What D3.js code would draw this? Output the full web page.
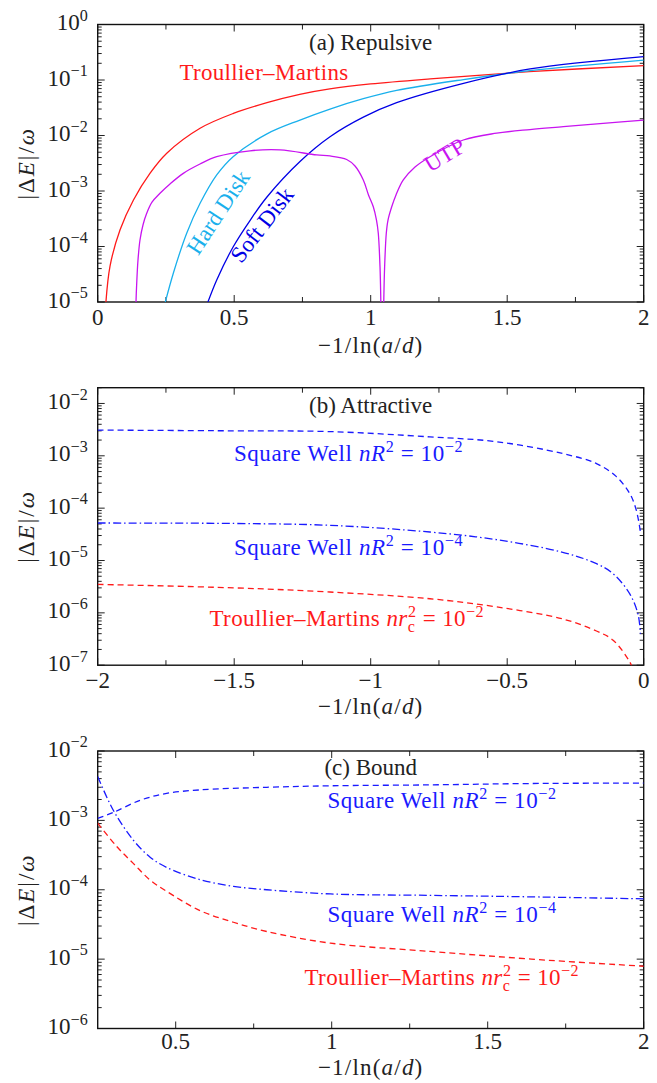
<!DOCTYPE html>
<html>
<head>
<meta charset="utf-8">
<script src="https://cdn.jsdelivr.net/npm/d3@7"></script>
<style>
body { margin: 0; background: #fff; }
text { font-family: "Liberation Serif", "DejaVu Serif", serif; fill: #222; }
</style>
</head>
<body>
<div id="chart"></div>
<script>
// ---- (a) Repulsive ----
var repTmX   = [0.028, 0.045, 0.082, 0.131, 0.192, 0.253, 0.375, 0.497, 0.62, 0.74, 0.85, 1.0, 1.218, 1.58, 2.0];
var repTmY   = [7.1e-6, 4.4e-5, 2.0e-4, 6.9e-4, 2.1e-3, 4.8e-3, 1.35e-2, 2.5e-2, 3.9e-2, 5.5e-2, 6.9e-2, 8.5e-2, 0.105, 0.141, 0.182];
var hardX    = [0.245, 0.277, 0.326, 0.375, 0.436, 0.497, 0.62, 0.741, 0.851, 0.973, 1.095, 1.34, 1.584, 2.0];
var hardY    = [8.9e-6, 3.3e-5, 1.74e-4, 6.0e-4, 1.95e-3, 4.2e-3, 1.07e-2, 1.9e-2, 3.0e-2, 4.6e-2, 6.5e-2, 0.102, 0.148, 0.229];
var softX    = [0.40, 0.436, 0.497, 0.559, 0.62, 0.741, 0.851, 0.973, 1.095, 1.34, 1.584, 2.0];
var softY    = [8.9e-6, 2.5e-5, 1.0e-4, 3.0e-4, 7.8e-4, 3.4e-3, 9.5e-3, 2.14e-2, 3.9e-2, 8.7e-2, 0.158, 0.263];
var utpX     = [0.139, 0.1403, 0.1429, 0.1476, 0.1549, 0.1659, 0.1795, 0.1989, 0.2282, 0.2648, 0.3136, 0.3747, 0.4359, 0.5579, 0.6678, 0.8022, 0.8509, 0.9121, 0.9425, 0.9729, 0.9919, 1.0095, 1.0212, 1.0278, 1.0341, 1.037,
                1.0425,
                1.048, 1.051, 1.0571, 1.0634, 1.077, 1.0927, 1.1194, 1.1623, 1.2172, 1.3392, 1.4615, 1.5835, 1.7055, 1.84, 2.0];
var utpY     = [4e-6, 9.9e-6, 2.17e-5, 5.7e-5, 1.31e-4, 2.44e-4, 3.96e-4, 6.3e-4, 9.1e-4, 1.34e-3, 2.08e-3, 3.06e-3, 4.15e-3, 5.3e-3, 5.5e-3, 4.46e-3, 4.28e-3, 3.7e-3, 2.82e-3, 1.58e-3, 8.5e-4, 5.2e-4, 3.0e-4, 1.73e-4, 4.3e-5, 1.09e-5,
                1e-7,
                1.09e-5, 4.3e-5, 1.73e-4, 3.0e-4, 5.2e-4, 8.5e-4, 1.58e-3, 2.7e-3, 4.15e-3, 8.3e-3, 1.1e-2, 1.28e-2, 1.44e-2, 1.64e-2, 1.9e-2];

// ---- (b) Attractive ----
var attSw2X  = [-2, -1.5, -1.15, -0.783, -0.539, -0.295, -0.173, -0.1, -0.051, -0.027, -0.012];
var attSw2Y  = [3.1e-3, 3.0e-3, 2.9e-3, 2.3e-3, 1.86e-3, 1.1e-3, 7.1e-4, 4.0e-4, 1.9e-4, 9.1e-5, 3.5e-5];
var attSw4X  = [-2, -1.5, -1.15, -0.783, -0.539, -0.3, -0.173, -0.112, -0.051, -0.021, -0.012];
var attSw4Y  = [5.2e-5, 5.1e-5, 4.7e-5, 3.5e-5, 2.5e-5, 1.45e-5, 8.7e-6, 5.6e-6, 2.3e-6, 9.5e-7, 4.0e-7];
var attTmX   = [-2, -1.5, -1.15, -0.783, -0.539, -0.295, -0.173, -0.112, -0.051, -0.035];
var attTmY   = [3.5e-6, 3.0e-6, 2.5e-6, 1.86e-6, 1.3e-6, 7.6e-7, 4.5e-7, 3.0e-7, 1.15e-7, 7.1e-8];

// ---- (c) Bound ----
var bndSw2X  = [0.25, 0.30, 0.386, 0.471, 0.578, 0.792, 0.996, 1.318, 1.64, 2.0];
var bndSw2Y  = [1.07e-3, 1.3e-3, 1.95e-3, 2.45e-3, 2.75e-3, 3.0e-3, 3.15e-3, 3.25e-3, 3.4e-3, 3.45e-3];
var bndSw4X  = [0.25, 0.30, 0.364, 0.418, 0.471, 0.578, 0.685, 0.792, 0.996, 1.318, 1.64, 2.0];
var bndSw4Y  = [4.3e-3, 1.4e-3, 5.2e-4, 2.95e-4, 2.1e-4, 1.4e-4, 1.12e-4, 1.0e-4, 8.7e-5, 8.3e-5, 7.9e-5, 7.4e-5];
var bndTmX   = [0.25, 0.311, 0.364, 0.418, 0.471, 0.578, 0.685, 0.792, 0.996, 1.318, 1.64, 2.0];
var bndTmY   = [9.1e-4, 4.2e-4, 2.4e-4, 1.38e-4, 9.5e-5, 5.0e-5, 3.4e-5, 2.5e-5, 1.7e-5, 1.29e-5, 1.0e-5, 7.9e-6];

// tick values
var xTicksRep = [0, 0.5, 1, 1.5, 2];
var xTicksAtt = [-2, -1.5, -1, -0.5, 0];
var xTicksBnd = [0.5, 1, 1.5, 2];
var yExpRep = [0, -1, -2, -3, -4, -5];
var yExpAtt = [-2, -3, -4, -5, -6, -7];
var yExpBnd = [-2, -3, -4, -5, -6];

var RED = "#ff1a1a", SKY = "#1ab0ec", NAVY = "#0000e6", VIOLET = "#c814f0", BLUE = "#1a1aff";
var FS = 23;

var svgWidth = 657, svgHeight = 1083;
var left = 97.7, right = 643.7, plotH = 277.5;

var svg = d3.select("#chart").append("svg")
    .attr("width", svgWidth)
    .attr("height", svgHeight);

// text made of pieces: plain, italic, superscript, subscript
function richText(g, parts, size) {
    var t = g.append("text").attr("font-size", size);
    var shift = 0;
    parts.forEach(function(p) {
        var sp = t.append("tspan").text(p.t);
        var target = p.sup ? -0.4 * size : (p.sub ? 0.25 * size : 0);
        sp.attr("dy", target - shift);
        shift = target;
        if (p.sup || p.sub) sp.attr("font-size", size * 0.7);
        if (p.i) sp.attr("font-style", "italic");
        if (p.dx) sp.attr("dx", p.dx);
    });
    return t;
}

function fmtX(v) {
    return v < 0 ? "\u2212" + Math.abs(v) : String(v);
}

function drawPanel(id, top, xDomain, yDomain, xTicks, xMinor, yExps, tickBase, titleBase) {
    var x = d3.scaleLinear().domain(xDomain).range([left, right]);
    var y = d3.scaleLog().domain(yDomain).range([top + plotH, top]);
    var g = svg.append("g");

    g.append("clipPath").attr("id", "clip" + id)
        .append("rect")
        .attr("x", left).attr("y", top)
        .attr("width", right - left).attr("height", plotH);

    var ax = g.append("g").attr("stroke", "#222").attr("stroke-width", 1);
    // x ticks, bottom and top
    xTicks.concat(xMinor).forEach(function(v) {
        var len = xTicks.indexOf(v) >= 0 ? 7 : 5;
        ax.append("line").attr("x1", x(v)).attr("x2", x(v)).attr("y1", top + plotH).attr("y2", top + plotH - len);
        ax.append("line").attr("x1", x(v)).attr("x2", x(v)).attr("y1", top).attr("y2", top + len);
    });
    // log y ticks, left and right
    var lo = Math.floor(Math.log10(yDomain[0])), hi = Math.ceil(Math.log10(yDomain[1]));
    for (var k = lo; k <= hi; k++) {
        for (var m = 1; m <= 9; m++) {
            var v = m * Math.pow(10, k);
            if (v < yDomain[0] * 0.999 || v > yDomain[1] * 1.001) continue;
            var len = m === 1 ? 7 : 4;
            ax.append("line").attr("x1", left).attr("x2", left + len).attr("y1", y(v)).attr("y2", y(v));
            ax.append("line").attr("x1", right).attr("x2", right - len).attr("y1", y(v)).attr("y2", y(v));
        }
    }
    g.append("rect")
        .attr("x", left).attr("y", top)
        .attr("width", right - left).attr("height", plotH)
        .attr("fill", "none").attr("stroke", "#111").attr("stroke-width", 1.4);

    // tick labels
    xTicks.forEach(function(v) {
        g.append("text").attr("x", x(v)).attr("y", top + plotH + tickBase)
            .attr("text-anchor", "middle").attr("font-size", FS).text(fmtX(v));
    });
    yExps.forEach(function(e) {
        richText(g, [{t: "10"}, {t: (e < 0 ? "\u2212" + (-e) : String(e)), sup: true}], FS)
            .attr("x", left - 10).attr("y", y(Math.pow(10, e)) + 5.5)
            .attr("text-anchor", "end");
    });

    // axis titles
    richText(g, [{t: "\u22121/ln("}, {t: "a", i: true}, {t: "/"}, {t: "d", i: true}, {t: ")"}], FS)
        .attr("x", (left + right) / 2).attr("y", top + plotH + titleBase)
        .attr("text-anchor", "middle")
        .attr("letter-spacing", 1.2);
    richText(g, [{t: "|\u0394"}, {t: "E", i: true}, {t: "|/"}, {t: "\u03c9", i: true}], FS)
        .attr("text-anchor", "middle")
        .attr("letter-spacing", 2)
        .attr("transform", "translate(34," + (top + plotH / 2) + ") rotate(-90)");

    var plot = g.append("g").attr("clip-path", "url(#clip" + id + ")");
    return {x: x, y: y, g: g, plot: plot};
}

function drawCurve(p, xs, ys, color, dash) {
    var pts = xs.map(function(v, i) { return [v, ys[i]]; });
    var line = d3.line()
        .x(function(d) { return p.x(d[0]); })
        .y(function(d) { return p.y(d[1]); })
        .curve(d3.curveCatmullRom.alpha(0.5));
    p.plot.append("path").datum(pts)
        .attr("d", line)
        .attr("fill", "none")
        .attr("stroke", color)
        .attr("stroke-width", 1.3)
        .attr("stroke-dasharray", dash || null);
}

function label(p, parts, x, y, color, anchor, rot) {
    var t = richText(p.g, parts, FS).attr("text-anchor", anchor || "middle").style("fill", color);
    if (rot) {
        t.attr("dy", "0.35em").attr("transform", "translate(" + x + "," + y + ") rotate(" + rot + ")");
    } else {
        t.attr("x", x).attr("y", y);
    }
    return t;
}

var DASH = "6,4", DASHDOT = "8,3,1.5,3";
var xMid = (left + right) / 2;

function swParts(exp) {
    return [{t: "Square Well "}, {t: "nR", i: true}, {t: "2", sup: true}, {t: " = 10"}, {t: "\u2212" + exp, sup: true}];
}
function tmParts() {
    return [{t: "Troullier\u2013Martins "}, {t: "nr", i: true}, {t: "c", sub: true}, {t: "2", sup: true, dx: -7.1}, {t: " = 10"}, {t: "\u22122", sup: true}];
}

// panel (a)
var pa = drawPanel("a", 24.5, [0, 2], [1e-5, 1], xTicksRep, [0.25, 0.75, 1.25, 1.75], yExpRep, 23, 51);
drawCurve(pa, repTmX, repTmY, RED);
drawCurve(pa, hardX, hardY, SKY);
drawCurve(pa, softX, softY, NAVY);
drawCurve(pa, utpX, utpY, VIOLET);
label(pa, [{t: "(a) Repulsive"}], xMid, 50, "#222");
label(pa, [{t: "Troullier\u2013Martins"}], 264, 80, RED).attr("letter-spacing", 0.3);
label(pa, [{t: "Hard Disk"}], 224.5, 216.5, SKY, "middle", -56.5);
label(pa, [{t: "Soft Disk"}], 268, 229.5, NAVY, "middle", -52.3);
label(pa, [{t: "UTP"}], 448.5, 161.5, VIOLET, "middle", -31);

// panel (b)
var pb = drawPanel("b", 387.7, [-2, 0], [1e-7, 2e-2], xTicksAtt, [-1.75, -1.25, -0.75, -0.25], yExpAtt, 23, 49);
drawCurve(pb, attSw2X, attSw2Y, BLUE, DASH);
drawCurve(pb, attSw4X, attSw4Y, BLUE, DASHDOT);
drawCurve(pb, attTmX, attTmY, RED, DASH);
label(pb, [{t: "(b) Attractive"}], xMid, 413, "#222");
label(pb, swParts(2), 348.5, 461, BLUE).attr("letter-spacing", 0.6);
label(pb, swParts(4), 348.5, 555, BLUE).attr("letter-spacing", 0.6);
label(pb, tmParts(), 346.7, 626, RED).attr("letter-spacing", 0.4);

// panel (c)
var pc = drawPanel("c", 751, [0.25, 2], [1e-6, 1e-2], xTicksBnd, [0.75, 1.25, 1.75], yExpBnd, 20.5, 46);
drawCurve(pc, bndSw2X, bndSw2Y, BLUE, DASH);
drawCurve(pc, bndSw4X, bndSw4Y, BLUE, DASHDOT);
drawCurve(pc, bndTmX, bndTmY, RED, DASH);
label(pc, [{t: "(c) Bound"}], xMid, 775, "#222");
label(pc, swParts(2), 442, 808, BLUE).attr("letter-spacing", 0.6);
label(pc, swParts(4), 442, 921.7, BLUE).attr("letter-spacing", 0.6);
label(pc, tmParts(), 441.7, 985, RED).attr("letter-spacing", 0.4);
</script>
</body>
</html>
